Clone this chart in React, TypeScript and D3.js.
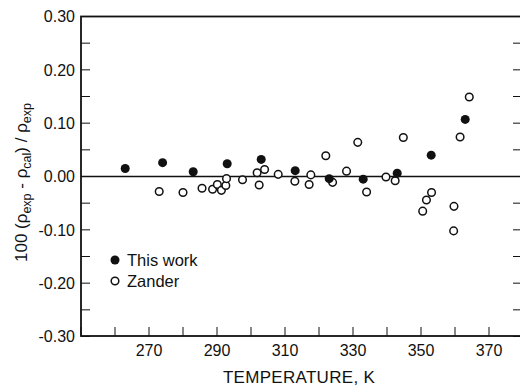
import React from 'react';
import * as d3 from 'd3';

// "This work" (filled) – temperature K, deviation
const thisWorkT = [263, 274, 283, 293, 303, 313, 323, 333, 343, 353, 363];
const thisWorkDev = [0.015, 0.026, 0.009, 0.024, 0.032, 0.011, -0.004, -0.005, 0.006, 0.04, 0.107];

// Zander (open)
const zanderT = [
  273, 280, 285.6, 288.7, 290.1, 291.3, 292.6, 292.8, 297.5, 301.8, 302.4, 304, 308, 312.9,
  317.1, 317.6, 322, 324, 328.1, 331.4, 334, 339.7, 342.4, 344.8, 350.5, 351.6, 353.1,
  359.7, 359.6, 361.5, 364.2,
];
const zanderDev = [
  -0.028, -0.03, -0.022, -0.024, -0.015, -0.026, -0.017, -0.004, -0.006, 0.007, -0.016, 0.013,
  0.004, -0.009, -0.015, 0.003, 0.039, -0.011, 0.01, 0.064, -0.029, -0.001, -0.008, 0.073,
  -0.065, -0.044, -0.03, -0.056, -0.102, 0.074, 0.149,
];

const xTickValues = [250, 260, 270, 280, 290, 300, 310, 320, 330, 340, 350, 360, 370, 380];
const xTickLabels = [270, 290, 310, 330, 350, 370];
const yTickValues = d3.range(-0.3, 0.3001, 0.05);
const yTickLabels = [0.3, 0.2, 0.1, 0, -0.1, -0.2, -0.3];

const W = 520;
const H = 386;
const left = 81;
const right = 522;
const top = 16.5;
const bottom = 336;

const FONT = '"Liberation Sans", Arial, Helvetica, sans-serif';

// plain hyphen for negatives, as in the original figure
const fmt = (v: number) => (v < 0 ? '-' : '') + Math.abs(v).toFixed(2);

export default function App() {
  const x = d3.scaleLinear().domain([250, 380]).range([left, left + 130 * 3.4]);
  const y = d3.scaleLinear().domain([-0.3, 0.3]).range([bottom + 0.5, top]);
  const tick = 9;

  return (
    <svg
      width={W}
      height={H}
      style={{ position: 'absolute', left: 0, top: 0, background: '#fff' }}
      fontFamily={FONT}
    >
      {/* frame */}
      <rect x={left} y={top} width={right - left} height={bottom - top} fill="none" stroke="#111" strokeWidth={1.8} />

      {/* zero line */}
      <line x1={left} x2={right} y1={y(0)} y2={y(0)} stroke="#111" strokeWidth={1.5} />

      {/* bottom ticks */}
      {xTickValues.map((v) => (
        <line key={'xt' + v} x1={x(v)} x2={x(v)} y1={bottom} y2={bottom - tick} stroke="#111" strokeWidth={1} />
      ))}
      {xTickLabels.map((v) => (
        <text key={'xl' + v} x={x(v)} y={356} textAnchor="middle" fontSize={16} fill="#111">
          {v}
        </text>
      ))}

      {/* left / right ticks */}
      {yTickValues.map((v, i) => (
        <g key={'yt' + i}>
          <line x1={left} x2={left + tick} y1={y(v)} y2={y(v)} stroke="#111" strokeWidth={1} />
          <line x1={right} x2={right - tick} y1={y(v)} y2={y(v)} stroke="#111" strokeWidth={1} />
        </g>
      ))}
      {yTickLabels.map((v) => (
        <text key={'yl' + v} x={75} y={y(v)} dy="0.36em" textAnchor="end" fontSize={16} fill="#111">
          {fmt(v)}
        </text>
      ))}

      {/* axis titles */}
      <text x={299} y={383} textAnchor="middle" fontSize={17} letterSpacing={0.3} fill="#111">
        TEMPERATURE, K
      </text>
      <text transform={`translate(27,${y(0) + 6}) rotate(-90)`} textAnchor="middle" fontSize={17} fill="#111">
        100 (ρ
        <tspan fontSize={12.5} dy={4}>exp</tspan>
        <tspan dy={-4}> - ρ</tspan>
        <tspan fontSize={12.5} dy={4}>cal</tspan>
        <tspan dy={-4}>) / ρ</tspan>
        <tspan fontSize={12.5} dy={4}>exp</tspan>
      </text>

      {/* data */}
      {zanderT.map((t, i) => (
        <circle key={'z' + i} cx={x(t)} cy={y(zanderDev[i])} r={3.8} fill="#fff" stroke="#111" strokeWidth={1.5} />
      ))}
      {thisWorkT.map((t, i) => (
        <circle key={'w' + i} cx={x(t)} cy={y(thisWorkDev[i])} r={4.5} fill="#111" />
      ))}

      {/* legend */}
      <circle cx={115} cy={260} r={4.5} fill="#111" />
      <text x={127} y={260} dy="0.36em" fontSize={16.5} fill="#111">This work</text>
      <circle cx={115} cy={281} r={3.8} fill="#fff" stroke="#111" strokeWidth={1.5} />
      <text x={127} y={281} dy="0.36em" fontSize={16.5} fill="#111">Zander</text>
    </svg>
  );
}
